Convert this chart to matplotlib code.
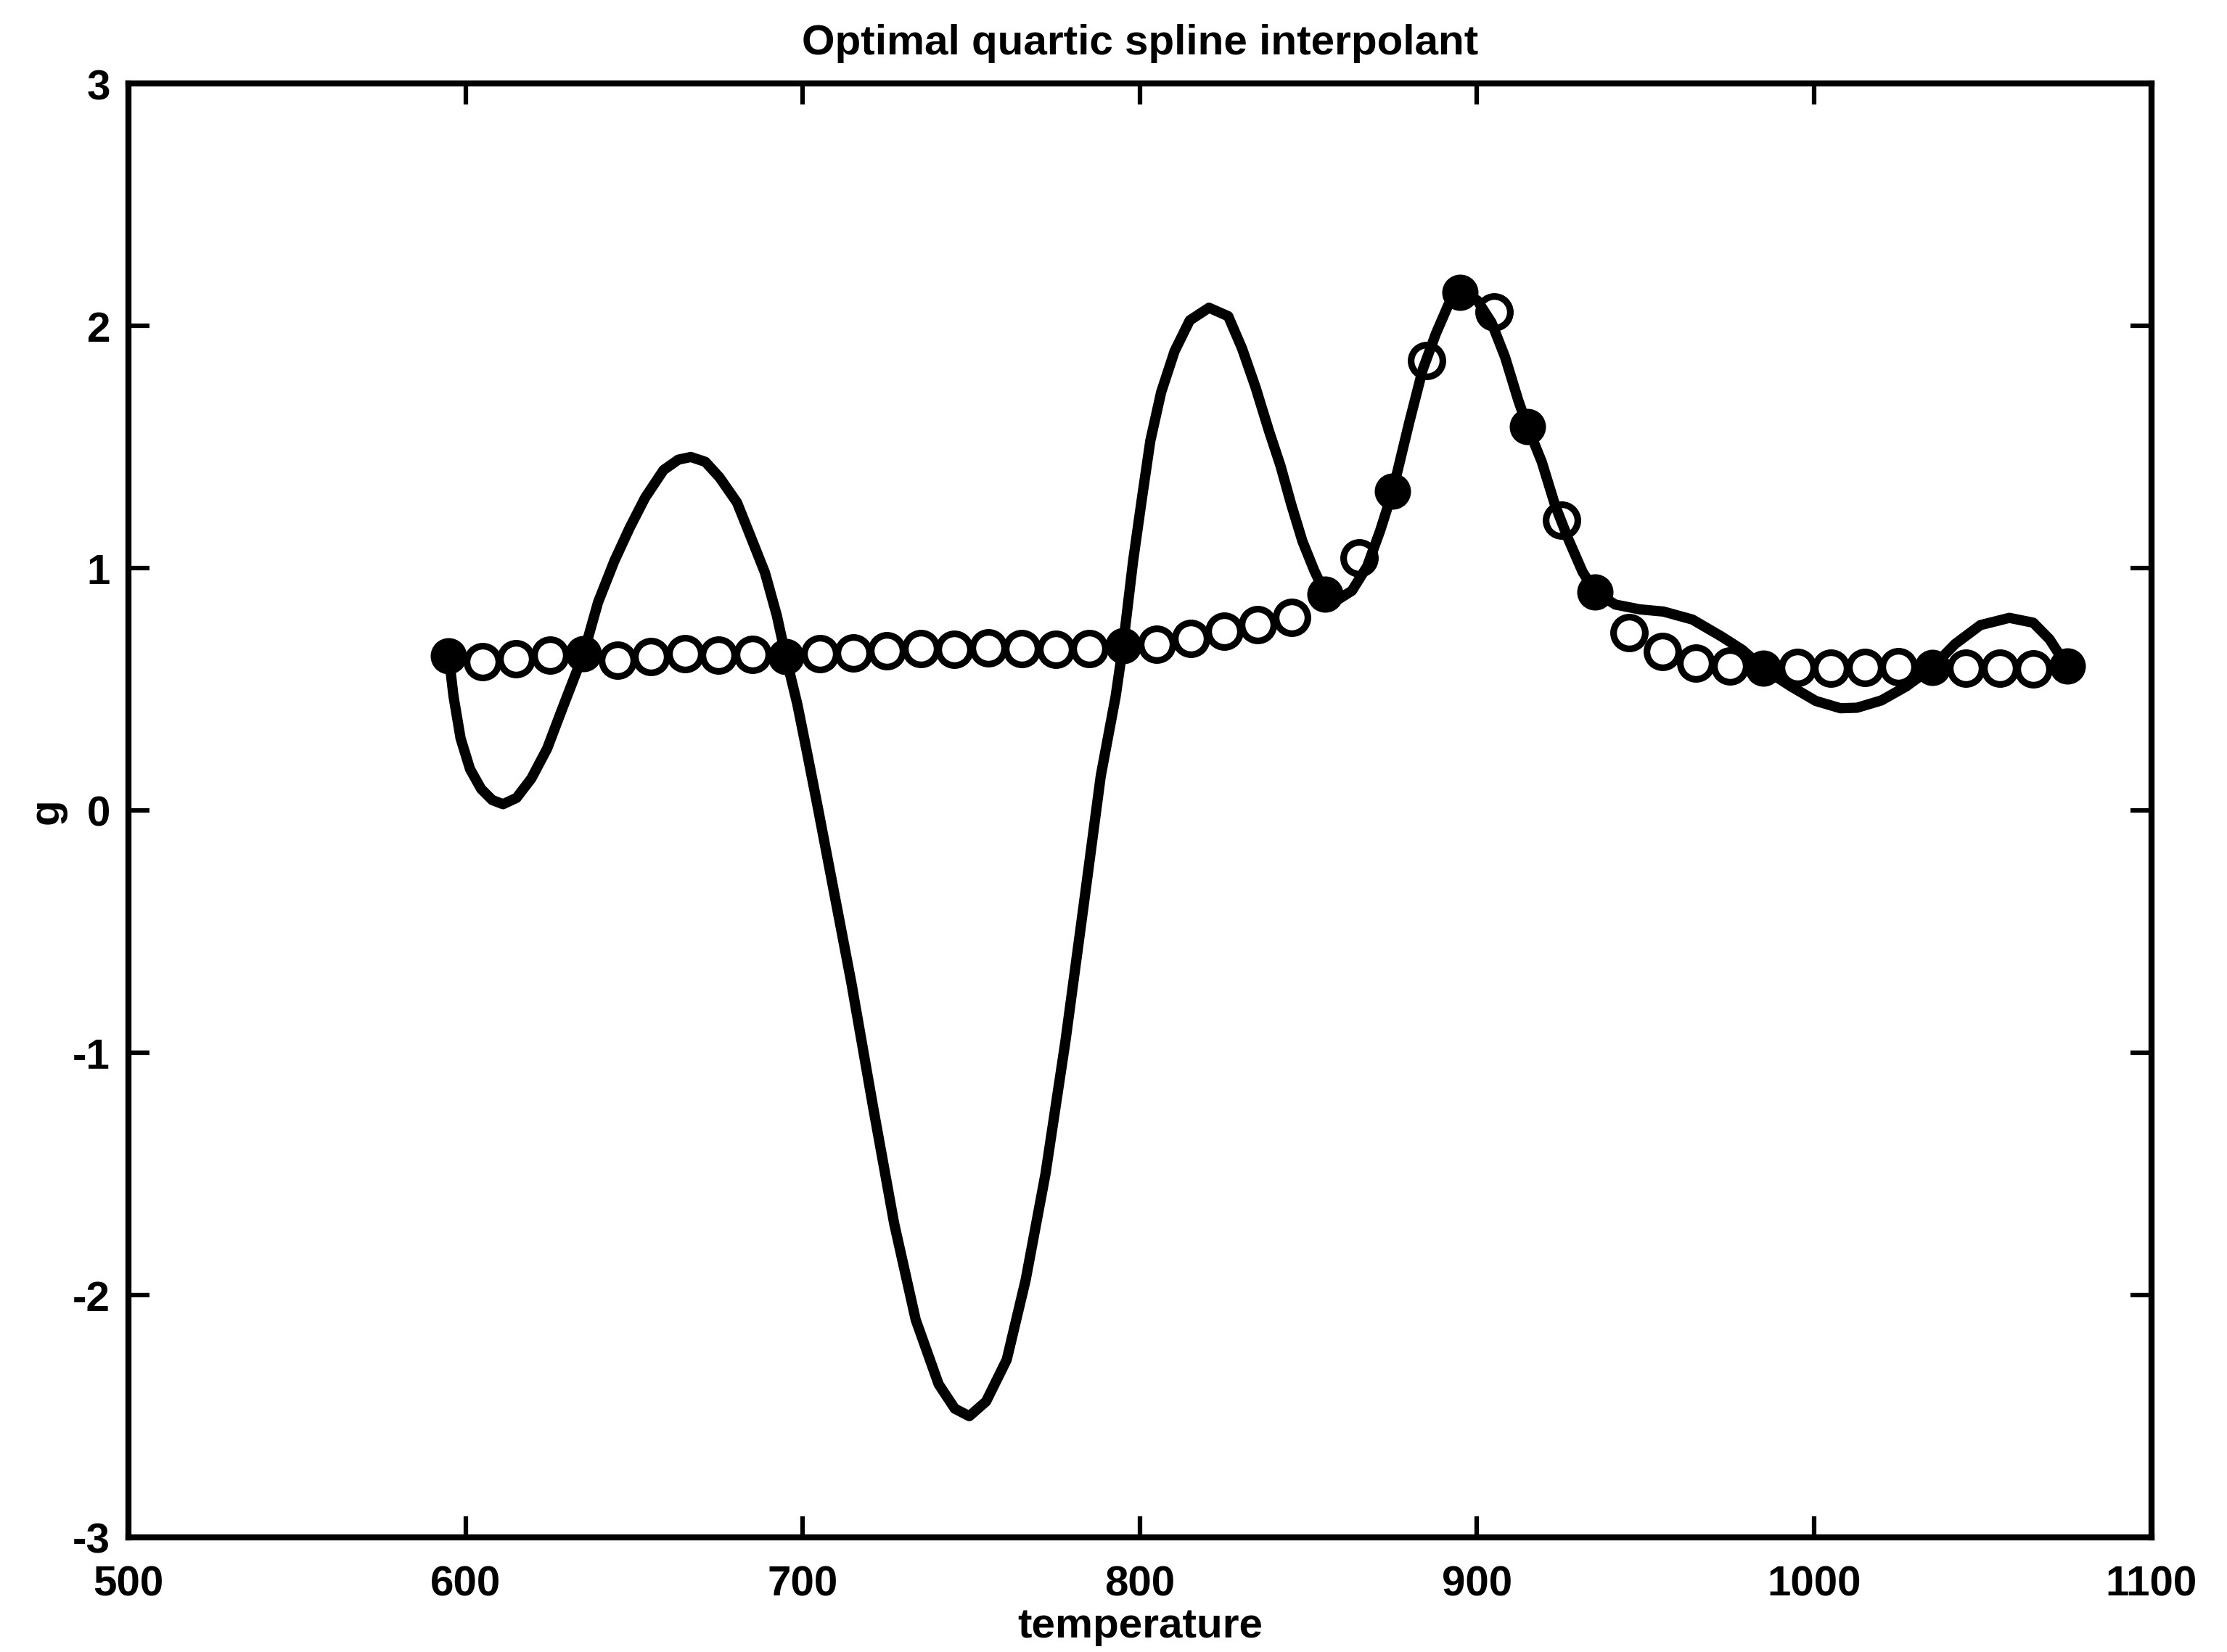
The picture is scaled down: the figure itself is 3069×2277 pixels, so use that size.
import matplotlib.pyplot as plt

plt.rcParams['font.family'] = ['Liberation Sans', 'DejaVu Sans']
plt.rcParams['axes.unicode_minus'] = False

# measured points (open circles) and the interpolation nodes (filled)
open_temp = [605, 615, 625, 645, 655, 665, 675, 685, 705, 715, 725, 735, 745,
             755, 765, 775, 785, 805, 815, 825, 835, 845, 865, 885, 905, 925,
             945, 955, 965, 975, 995, 1005, 1015, 1025, 1045, 1055, 1065]
open_g = [0.613, 0.625, 0.640, 0.621, 0.635, 0.647, 0.640, 0.643, 0.648,
          0.651, 0.659, 0.668, 0.665, 0.670, 0.667, 0.664, 0.669, 0.686,
          0.710, 0.740, 0.766, 0.798, 1.041, 1.858, 2.058, 1.197, 0.735,
          0.656, 0.608, 0.595, 0.589, 0.588, 0.591, 0.593, 0.587, 0.586,
          0.583]

knot_temp = [595, 635, 695, 795, 855, 875, 895, 915, 935, 985, 1035, 1075]
knot_g = [0.638, 0.648, 0.634, 0.681, 0.894, 1.319, 2.137, 1.584, 0.903,
          0.586, 0.590, 0.595]

# the quartic spline
spline_temp = [595, 596.4, 598.5, 601.3, 604.6, 607.9, 611.1, 615.1, 619.5,
               624.2, 628.8, 635, 639.3, 644.1, 648.6, 653.2, 658.7, 663.1,
               666.8, 671.1, 675.3, 680.5, 684.5, 688.8, 692.3, 695, 698.4,
               701.4, 704.5, 714.4, 720.8, 727.1, 733.5, 740.3, 745.1, 749.4,
               754.4, 760.5, 766.1, 772.0, 777.9, 783.2, 788.4, 792.8, 795,
               798.0, 800.5, 803.1, 806.3, 810.3, 814.8, 820.5, 826.2, 830.3,
               834.3, 838.3, 841.7, 844.9, 848.2, 851.7, 855, 858.6, 862.9,
               867.4, 871.3, 875, 879.9, 883.9, 887.8, 891.5, 895, 900.1,
               904.3, 908.3, 912.3, 915, 919.2, 923.2, 927.2, 931.3, 935,
               941.0, 948.3, 955.3, 963.9, 972.4, 978.7, 985, 992.9, 1000.5,
               1007.8, 1012.7, 1019.9, 1027.3, 1035, 1041.8, 1049.3, 1057.9,
               1065.0, 1069.8, 1075]
spline_g = [0.638, 0.472, 0.298, 0.171, 0.089, 0.043, 0.026, 0.052, 0.132,
            0.256, 0.425, 0.648, 0.860, 1.029, 1.165, 1.290, 1.405, 1.448,
            1.459, 1.439, 1.375, 1.271, 1.132, 0.981, 0.805, 0.634, 0.438,
            0.230, 0.010, -0.710, -1.219, -1.704, -2.102, -2.368, -2.469,
            -2.500, -2.439, -2.267, -1.939, -1.500, -0.954, -0.404, 0.143,
            0.470, 0.681, 1.031, 1.278, 1.526, 1.726, 1.896, 2.023, 2.075,
            2.040, 1.907, 1.747, 1.566, 1.423, 1.263, 1.112, 0.991, 0.894,
            0.869, 0.907, 1.007, 1.156, 1.319, 1.602, 1.820, 1.968, 2.087,
            2.137, 2.105, 2.014, 1.872, 1.690, 1.584, 1.439, 1.258, 1.116,
            0.985, 0.903, 0.850, 0.830, 0.821, 0.788, 0.719, 0.663, 0.586,
            0.514, 0.452, 0.422, 0.424, 0.454, 0.512, 0.590, 0.687, 0.765,
            0.795, 0.775, 0.707, 0.595]

xticks = [500, 600, 700, 800, 900, 1000, 1100]
yticks = [-3, -2, -1, 0, 1, 2, 3]

fig = plt.figure(figsize=(10.23, 7.593), dpi=300)
ax = fig.add_axes([0.0577, 0.0694, 0.9083, 0.8796])

ax.plot(spline_temp, spline_g, 'k-', lw=3.4)
ax.plot(open_temp, open_g, 'o', mfc='none', mec='k', ms=10.5, mew=2.2)
ax.plot(knot_temp, knot_g, 'o', color='k', ms=11)

ax.set_xlim(500, 1100)
ax.set_ylim(-3, 3)
ax.set_xticks(xticks)
ax.set_xticklabels([str(t) for t in xticks], fontweight='bold')
ax.set_yticks(yticks)
ax.set_yticklabels([str(t) for t in yticks], fontweight='bold')
ax.tick_params(direction='in', top=True, right=True, length=7, width=1.5,
               labelsize=14)
ax.tick_params(axis='x', pad=9)
ax.tick_params(axis='y', pad=6)
for s in ax.spines.values():
    s.set_linewidth(2)

ax.set_title('Optimal quartic spline interpolant', fontsize=14,
             fontweight='bold', pad=10)
ax.set_xlabel('temperature', fontsize=14, fontweight='bold', labelpad=1)
ax.set_ylabel('g', fontsize=14, fontweight='bold', labelpad=2)

fig.savefig('out.png', dpi=300)
